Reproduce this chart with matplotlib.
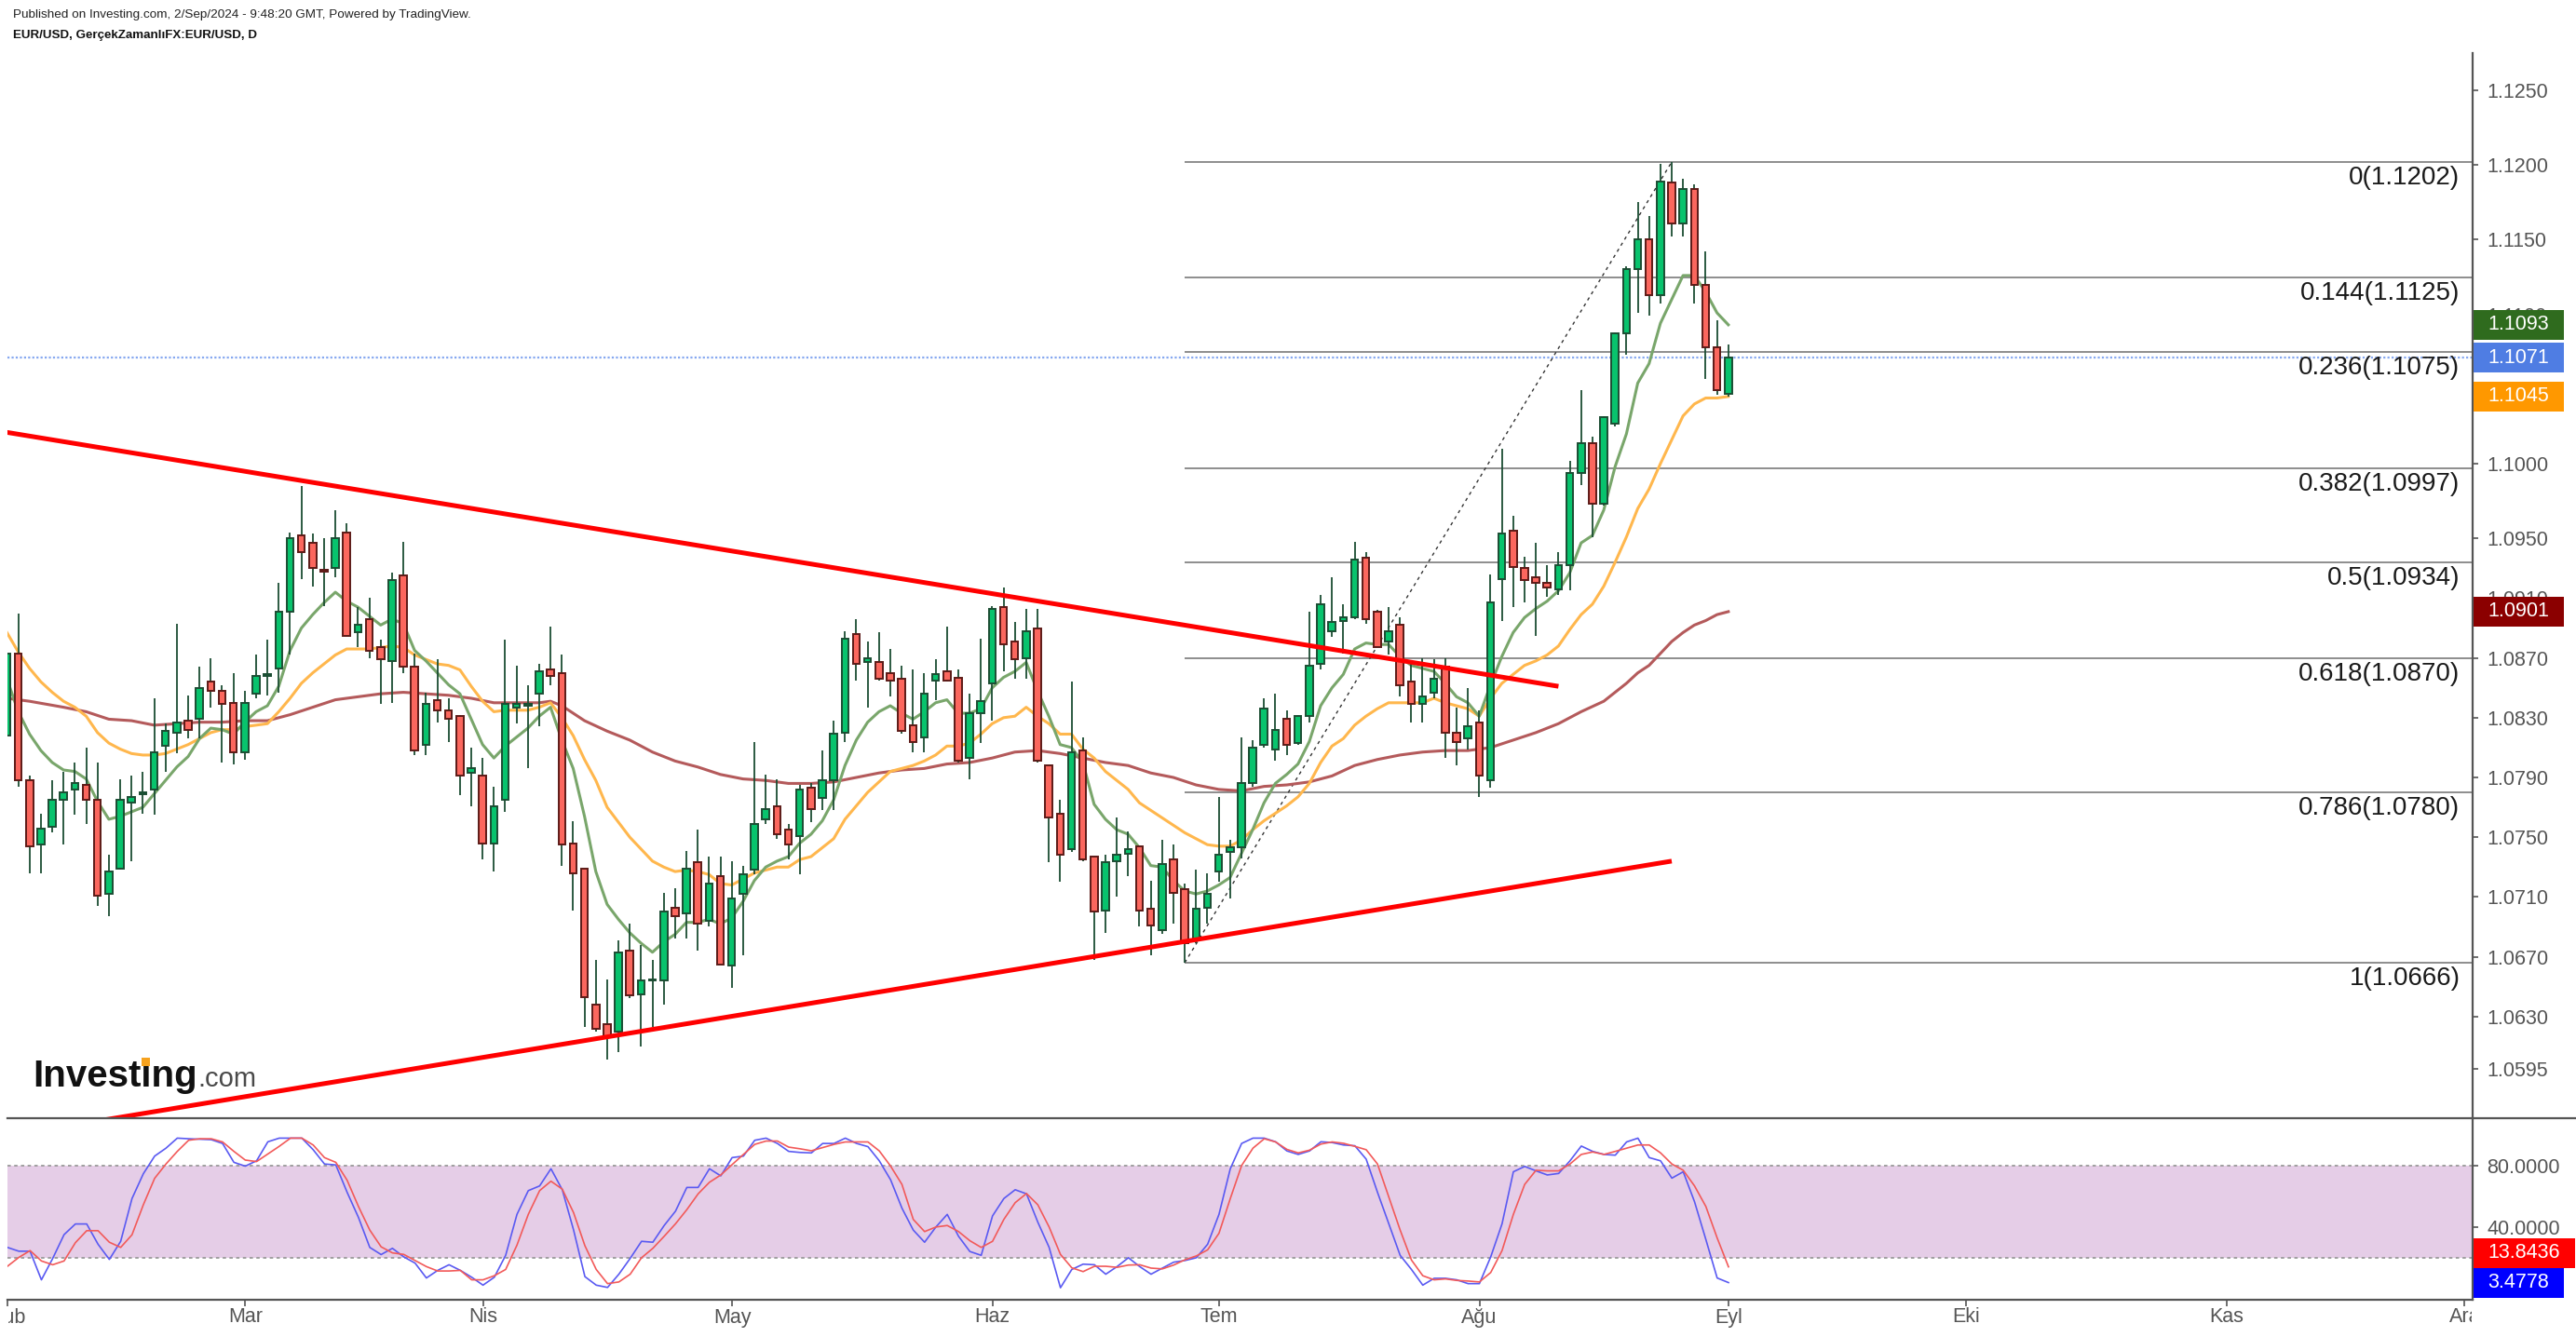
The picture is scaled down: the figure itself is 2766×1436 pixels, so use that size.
import matplotlib
matplotlib.use("Agg")
import matplotlib.pyplot as plt
import matplotlib.transforms as mtransforms
from matplotlib.patches import Rectangle
from matplotlib.lines import Line2D
import numpy as np

plt.rcParams['font.family'] = ['Liberation Sans', 'DejaVu Sans']

# ---- data (daily bars, index 0 = 1 Feb 2024) ----
month_ticks = [0, 21, 42, 64, 87, 107, 130, 152, 173, 196, 217]
month_labels = ['Şub', 'Mar', 'Nis', 'May', 'Haz', 'Tem', 'Ağu', 'Eyl', 'Eki', 'Kas', 'Ara']

opens = [1.0818, 1.0873, 1.0788, 1.0745, 1.0757, 1.0775, 1.0782, 1.0785, 1.0775, 1.0712,
         1.0729, 1.0773, 1.0779, 1.0782, 1.0811, 1.0820, 1.0828, 1.0829, 1.0854, 1.0848,
         1.0840, 1.0807, 1.0846, 1.0858, 1.0863, 1.0901, 1.0952, 1.0947, 1.0929, 1.0930,
         1.0954, 1.0887, 1.0896, 1.0877, 1.0868, 1.0925, 1.0864, 1.0812, 1.0842, 1.0835,
         1.0831, 1.0793, 1.0791, 1.0746, 1.0775, 1.0837, 1.0838, 1.0846, 1.0862, 1.0860,
         1.0746, 1.0729, 1.0638, 1.0625, 1.0620, 1.0674, 1.0645, 1.0654, 1.0654, 1.0703,
         1.0699, 1.0733, 1.0694, 1.0724, 1.0664, 1.0712, 1.0728, 1.0762, 1.0771, 1.0755,
         1.0751, 1.0783, 1.0776, 1.0788, 1.0820, 1.0886, 1.0867, 1.0867, 1.0860, 1.0856,
         1.0825, 1.0817, 1.0855, 1.0861, 1.0857, 1.0803, 1.0833, 1.0853, 1.0904, 1.0881,
         1.0870, 1.0890, 1.0798, 1.0766, 1.0742, 1.0808, 1.0737, 1.0701, 1.0734, 1.0739,
         1.0744, 1.0702, 1.0688, 1.0735, 1.0715, 1.0681, 1.0703, 1.0727, 1.0740, 1.0743,
         1.0786, 1.0812, 1.0809, 1.0829, 1.0813, 1.0831, 1.0866, 1.0888, 1.0895, 1.0897,
         1.0937, 1.0901, 1.0881, 1.0892, 1.0854, 1.0839, 1.0847, 1.0864, 1.0820, 1.0816,
         1.0827, 1.0788, 1.0923, 1.0955, 1.0930, 1.0924, 1.0920, 1.0916, 1.0932, 1.0994,
         1.1014, 1.0973, 1.1027, 1.1087, 1.1130, 1.1150, 1.1113, 1.1188, 1.1161, 1.1184,
         1.1120, 1.1078, 1.1047]
highs = [1.0889, 1.0900, 1.0791, 1.0766, 1.0788, 1.0794, 1.0800, 1.0810, 1.0800, 1.0738,
         1.0789, 1.0791, 1.0794, 1.0843, 1.0826, 1.0893, 1.0845, 1.0864, 1.0870, 1.0852,
         1.0860, 1.0848, 1.0872, 1.0882, 1.0920, 1.0954, 1.0985, 1.0953, 1.0950, 1.0969,
         1.0960, 1.0904, 1.0910, 1.0882, 1.0927, 1.0948, 1.0873, 1.0847, 1.0869, 1.0843,
         1.0832, 1.0810, 1.0803, 1.0784, 1.0882, 1.0865, 1.0852, 1.0866, 1.0891, 1.0872,
         1.0761, 1.0729, 1.0668, 1.0655, 1.0681, 1.0692, 1.0678, 1.0668, 1.0713, 1.0716,
         1.0741, 1.0755, 1.0737, 1.0737, 1.0734, 1.0731, 1.0814, 1.0792, 1.0789, 1.0759,
         1.0785, 1.0786, 1.0808, 1.0828, 1.0888, 1.0896, 1.0881, 1.0887, 1.0876, 1.0865,
         1.0862, 1.0860, 1.0869, 1.0891, 1.0862, 1.0846, 1.0883, 1.0905, 1.0917, 1.0894,
         1.0903, 1.0903, 1.0798, 1.0775, 1.0854, 1.0817, 1.0737, 1.0738, 1.0763, 1.0754,
         1.0744, 1.0721, 1.0748, 1.0745, 1.0719, 1.0728, 1.0726, 1.0777, 1.0748, 1.0817,
         1.0815, 1.0843, 1.0846, 1.0835, 1.0832, 1.0901, 1.0912, 1.0924, 1.0906, 1.0948,
         1.0941, 1.0902, 1.0904, 1.0897, 1.0868, 1.0870, 1.0869, 1.0870, 1.0837, 1.0850,
         1.0835, 1.0926, 1.1010, 1.0965, 1.0938, 1.0947, 1.0932, 1.0941, 1.1002, 1.1049,
         1.1018, 1.1032, 1.1088, 1.1132, 1.1175, 1.1166, 1.1201, 1.1202, 1.1191, 1.1187,
         1.1142, 1.1096, 1.1080]
lows = [1.0796, 1.0784, 1.0726, 1.0726, 1.0753, 1.0745, 1.0765, 1.0759, 1.0704, 1.0697,
        1.0728, 1.0734, 1.0766, 1.0765, 1.0794, 1.0806, 1.0816, 1.0816, 1.0837, 1.0800,
        1.0799, 1.0802, 1.0843, 1.0845, 1.0847, 1.0872, 1.0923, 1.0918, 1.0905, 1.0924,
        1.0885, 1.0877, 1.0870, 1.0839, 1.0840, 1.0860, 1.0805, 1.0805, 1.0827, 1.0814,
        1.0778, 1.0771, 1.0735, 1.0727, 1.0767, 1.0826, 1.0796, 1.0824, 1.0852, 1.0731,
        1.0701, 1.0623, 1.0620, 1.0601, 1.0606, 1.0642, 1.0610, 1.0623, 1.0638, 1.0682,
        1.0682, 1.0674, 1.0690, 1.0665, 1.0649, 1.0671, 1.0725, 1.0759, 1.0749, 1.0735,
        1.0725, 1.0760, 1.0768, 1.0768, 1.0814, 1.0855, 1.0837, 1.0855, 1.0844, 1.0819,
        1.0807, 1.0807, 1.0842, 1.0854, 1.0800, 1.0789, 1.0813, 1.0828, 1.0861, 1.0856,
        1.0856, 1.0800, 1.0733, 1.0720, 1.0740, 1.0734, 1.0668, 1.0686, 1.0710, 1.0724,
        1.0690, 1.0671, 1.0685, 1.0692, 1.0666, 1.0679, 1.0692, 1.0720, 1.0709, 1.0736,
        1.0784, 1.0810, 1.0801, 1.0805, 1.0812, 1.0827, 1.0862, 1.0884, 1.0873, 1.0896,
        1.0893, 1.0877, 1.0872, 1.0844, 1.0827, 1.0827, 1.0843, 1.0803, 1.0798, 1.0809,
        1.0777, 1.0783, 1.0895, 1.0904, 1.0907, 1.0885, 1.0911, 1.0912, 1.0915, 1.0986,
        1.0951, 1.0972, 1.1025, 1.1073, 1.1101, 1.1099, 1.1107, 1.1152, 1.1152, 1.1107,
        1.1057, 1.1046, 1.1045]
closes = [1.0873, 1.0788, 1.0744, 1.0756, 1.0775, 1.0780, 1.0786, 1.0775, 1.0711, 1.0727,
          1.0775, 1.0777, 1.0780, 1.0807, 1.0821, 1.0827, 1.0822, 1.0850, 1.0848, 1.0839,
          1.0807, 1.0840, 1.0858, 1.0859, 1.0901, 1.0950, 1.0941, 1.0930, 1.0928, 1.0950,
          1.0885, 1.0892, 1.0875, 1.0869, 1.0922, 1.0864, 1.0808, 1.0839, 1.0835, 1.0829,
          1.0791, 1.0796, 1.0746, 1.0771, 1.0839, 1.0839, 1.0839, 1.0861, 1.0858, 1.0745,
          1.0726, 1.0643, 1.0622, 1.0617, 1.0673, 1.0644, 1.0654, 1.0655, 1.0700, 1.0697,
          1.0729, 1.0692, 1.0719, 1.0665, 1.0709, 1.0725, 1.0759, 1.0769, 1.0752, 1.0745,
          1.0782, 1.0769, 1.0788, 1.0819, 1.0883, 1.0866, 1.0870, 1.0856, 1.0855, 1.0821,
          1.0814, 1.0846, 1.0859, 1.0855, 1.0801, 1.0833, 1.0841, 1.0903, 1.0879, 1.0869,
          1.0888, 1.0801, 1.0763, 1.0738, 1.0807, 1.0735, 1.0700, 1.0733, 1.0738, 1.0742,
          1.0701, 1.0691, 1.0732, 1.0713, 1.0679, 1.0702, 1.0712, 1.0738, 1.0743, 1.0786,
          1.0810, 1.0836, 1.0822, 1.0812, 1.0831, 1.0865, 1.0906, 1.0894, 1.0897, 1.0936,
          1.0896, 1.0877, 1.0888, 1.0852, 1.0839, 1.0844, 1.0856, 1.0820, 1.0814, 1.0824,
          1.0791, 1.0907, 1.0953, 1.0931, 1.0922, 1.0920, 1.0917, 1.0932, 1.0994, 1.1014,
          1.0973, 1.1031, 1.1087, 1.1130, 1.1150, 1.1113, 1.1189, 1.1161, 1.1184, 1.1120,
          1.1078, 1.1049, 1.1071]

# moving averages (green fast, orange medium, dark red slow)
ma_fast = [1.0856, 1.0834, 1.0819, 1.0808, 1.0800, 1.0795, 1.0794, 1.0789, 1.0774, 1.0762,
           1.0764, 1.0767, 1.0770, 1.0779, 1.0788, 1.0797, 1.0804, 1.0816, 1.0823, 1.0822,
           1.0819, 1.0827, 1.0834, 1.0838, 1.0851, 1.0875, 1.0890, 1.0899, 1.0907, 1.0914,
           1.0908, 1.0904, 1.0898, 1.0892, 1.0896, 1.0893, 1.0875, 1.0868, 1.0860, 1.0852,
           1.0846, 1.0829, 1.0812, 1.0803, 1.0811, 1.0817, 1.0823, 1.0831, 1.0837, 1.0815,
           1.0796, 1.0764, 1.0727, 1.0705, 1.0695, 1.0686, 1.0679, 1.0673, 1.0680, 1.0685,
           1.0693, 1.0693, 1.0695, 1.0692, 1.0696, 1.0707, 1.0721, 1.0730, 1.0734, 1.0737,
           1.0746, 1.0752, 1.0761, 1.0775, 1.0798, 1.0815, 1.0827, 1.0834, 1.0838, 1.0833,
           1.0829, 1.0834, 1.0840, 1.0842, 1.0833, 1.0833, 1.0836, 1.0850, 1.0857, 1.0861,
           1.0867, 1.0848, 1.0831, 1.0812, 1.0810, 1.0800, 1.0772, 1.0762, 1.0755, 1.0752,
           1.0743, 1.0731, 1.0730, 1.0721, 1.0714, 1.0712, 1.0714, 1.0718, 1.0723, 1.0739,
           1.0755, 1.0773, 1.0786, 1.0792, 1.0799, 1.0814, 1.0838, 1.0850, 1.0859, 1.0876,
           1.0880, 1.0879, 1.0879, 1.0871, 1.0865, 1.0863, 1.0861, 1.0853, 1.0844, 1.0840,
           1.0831, 1.0852, 1.0871, 1.0887, 1.0897, 1.0903, 1.0908, 1.0915, 1.0927, 1.0947,
           1.0952, 1.0969, 1.0998, 1.1020, 1.1054, 1.1067, 1.1094, 1.1110, 1.1126, 1.1126,
           1.1115, 1.1101, 1.1093]
ma_mid = [1.0887, 1.0874, 1.0863, 1.0854, 1.0847, 1.0841, 1.0837, 1.0831, 1.0820, 1.0813,
          1.0809, 1.0806, 1.0805, 1.0805, 1.0806, 1.0809, 1.0812, 1.0816, 1.0820, 1.0822,
          1.0822, 1.0824, 1.0825, 1.0826, 1.0834, 1.0843, 1.0853, 1.0860, 1.0866, 1.0872,
          1.0876, 1.0876, 1.0876, 1.0877, 1.0878, 1.0877, 1.0872, 1.0869, 1.0866, 1.0865,
          1.0862, 1.0851, 1.0841, 1.0834, 1.0835, 1.0835, 1.0835, 1.0837, 1.0840, 1.0830,
          1.0818, 1.0802, 1.0788, 1.0770, 1.0760, 1.0750, 1.0742, 1.0734, 1.0730, 1.0727,
          1.0728, 1.0727, 1.0725, 1.0719, 1.0718, 1.0722, 1.0726, 1.0728, 1.0730, 1.0730,
          1.0735, 1.0737, 1.0743, 1.0749, 1.0762, 1.0771, 1.0780, 1.0787, 1.0794, 1.0796,
          1.0798, 1.0801, 1.0805, 1.0811, 1.0811, 1.0813, 1.0819, 1.0826, 1.0830, 1.0831,
          1.0837, 1.0831, 1.0826, 1.0819, 1.0819, 1.0809, 1.0803, 1.0794, 1.0788, 1.0782,
          1.0773, 1.0768, 1.0763, 1.0758, 1.0753, 1.0749, 1.0745, 1.0744, 1.0744, 1.0748,
          1.0755, 1.0761, 1.0766, 1.0771, 1.0777, 1.0786, 1.0800, 1.0811, 1.0816, 1.0825,
          1.0831, 1.0836, 1.0840, 1.0840, 1.0840, 1.0840, 1.0843, 1.0840, 1.0838, 1.0836,
          1.0831, 1.0843, 1.0853, 1.0859, 1.0865, 1.0868, 1.0872, 1.0878, 1.0889, 1.0899,
          1.0906, 1.0918, 1.0934, 1.0951, 1.0970, 1.0983, 1.1000, 1.1016, 1.1032, 1.1040,
          1.1044, 1.1044, 1.1045]
ma_slow_idx = [0, 2, 5, 7, 9, 11, 13, 15, 17, 19, 21, 23, 25, 27, 29, 31, 33, 35, 37, 39,
               41, 43, 45, 47, 48, 49, 51, 53, 55, 57, 59, 61, 63, 65, 67, 69, 71, 73, 75, 77,
               79, 81, 83, 85, 87, 89, 91, 93, 95, 97, 99, 101, 103, 105, 107, 109, 111, 113,
               115, 117, 119, 121, 123, 125, 127, 129, 131, 133, 135, 137, 139, 141, 142, 143,
               144, 145, 146, 147, 148, 149, 150, 151, 152]
ma_slow = [1.0843, 1.0841, 1.0837, 1.0834, 1.0829, 1.0828, 1.0825, 1.0826, 1.0827, 1.0827,
           1.0828, 1.0828, 1.0832, 1.0837, 1.0842, 1.0844, 1.0846, 1.0847, 1.0846, 1.0845,
           1.0843, 1.0840, 1.0840, 1.0840, 1.0841, 1.0838, 1.0828, 1.0821, 1.0815, 1.0807,
           1.0801, 1.0797, 1.0792, 1.0789, 1.0788, 1.0786, 1.0786, 1.0787, 1.0790, 1.0793,
           1.0795, 1.0796, 1.0799, 1.0800, 1.0803, 1.0807, 1.0808, 1.0806, 1.0803, 1.0800,
           1.0798, 1.0793, 1.0790, 1.0785, 1.0782, 1.0781, 1.0784, 1.0785, 1.0787, 1.0791,
           1.0798, 1.0802, 1.0805, 1.0807, 1.0808, 1.0808, 1.0810, 1.0815, 1.0820, 1.0826,
           1.0834, 1.0841, 1.0847, 1.0853, 1.0860, 1.0865, 1.0873, 1.0881, 1.0887, 1.0892,
           1.0895, 1.0899, 1.0901]

# stochastic oscillator (%K blue, %D red)
stoch_k = [26.6, 24.1, 24.1, 5.3, 19.4, 35.0, 42.0, 42.0, 28.7, 18.7,
           30.6, 58.7, 75.0, 86.6, 91.8, 98.4, 98.0, 97.7, 97.4, 94.9,
           82.5, 80.0, 83.5, 96.0, 98.4, 98.4, 98.4, 90.8, 81.4, 80.8,
           62.8, 46.3, 26.6, 21.9, 26.0, 20.4, 16.3, 6.5, 11.5, 15.2,
           11.5, 7.0, 1.8, 7.0, 21.4, 48.3, 63.9, 67.0, 78.3, 64.5,
           38.0, 7.4, 1.8, 0.3, 9.0, 19.4, 30.6, 30.0, 41.0, 50.4,
           66.0, 66.0, 78.3, 73.6, 85.6, 86.6, 97.0, 98.4, 94.9, 89.7,
           89.0, 88.7, 94.9, 94.9, 98.4, 94.9, 92.8, 83.5, 71.0, 52.4,
           38.0, 30.0, 40.0, 48.3, 33.9, 23.9, 21.4, 47.3, 58.7, 64.5,
           61.8, 43.2, 26.6, 0.1, 12.1, 15.6, 15.2, 9.0, 14.0, 19.8,
           14.0, 9.0, 13.0, 16.9, 18.0, 19.8, 28.7, 48.3, 78.3, 94.9,
           98.4, 98.4, 96.0, 90.0, 87.7, 90.0, 96.0, 95.5, 93.9, 93.4,
           84.6, 62.8, 42.1, 21.4, 12.1, 1.8, 6.3, 6.3, 5.3, 2.8,
           2.8, 20.4, 42.1, 76.3, 79.8, 76.9, 74.2, 75.2, 83.5, 93.2,
           89.7, 87.7, 87.2, 95.9, 98.4, 85.6, 83.5, 72.1, 76.3, 56.6,
           31.8, 6.5, 3.4778]
stoch_d = [14.2, 20.0, 24.5, 17.7, 15.2, 17.7, 29.7, 37.6, 37.6, 30.0,
           26.6, 34.9, 54.6, 72.0, 81.4, 89.7, 97.0, 98.0, 98.0, 95.9,
           89.7, 84.0, 83.0, 88.0, 93.0, 98.4, 98.4, 93.9, 85.6, 82.5,
           70.7, 53.5, 38.0, 27.0, 23.0, 22.0, 18.0, 14.0, 11.1, 11.1,
           11.5, 5.3, 5.3, 8.0, 12.1, 28.1, 48.3, 63.9, 70.1, 64.9,
           49.4, 27.7, 12.1, 2.8, 3.9, 9.0, 19.8, 26.0, 33.9, 42.1,
           51.4, 61.8, 69.4, 74.2, 81.0, 87.7, 94.3, 96.5, 96.5, 92.5,
           91.4, 90.1, 92.2, 94.3, 95.9, 95.9, 95.9, 90.0, 80.0, 68.0,
           45.0, 37.0, 40.0, 41.0, 37.0, 31.0, 26.6, 30.6, 45.0, 56.0,
           62.0, 54.6, 40.0, 22.0, 13.2, 10.7, 14.2, 14.2, 13.5, 15.0,
           15.2, 13.0, 12.5, 15.0, 18.5, 21.0, 25.0, 35.9, 58.7, 80.4,
           91.8, 98.0, 95.9, 91.0, 88.7, 90.5, 94.5, 95.9, 95.0, 93.0,
           90.8, 81.4, 59.7, 38.0, 18.3, 8.0, 5.3, 5.9, 4.9, 4.5,
           3.9, 10.1, 24.5, 48.3, 68.0, 77.3, 76.9, 76.9, 81.4, 87.7,
           89.3, 87.7, 89.7, 91.8, 93.9, 93.9, 88.7, 81.4, 77.3, 67.0,
           53.5, 32.8, 13.8436]

fib_levels = ['0', '0.144', '0.236', '0.382', '0.5', '0.618', '0.786', '1']
fib_prices = [1.1202, 1.1125, 1.1075, 1.0997, 1.0934, 1.0870, 1.0780, 1.0666]
fib_from = 104              # swing low bar (26 Jun)
fib_to = 147                # swing high bar (26 Aug)

upper_trend_x = [0, 137]
upper_trend_y = [1.1021, 1.0851]
lower_trend_x = [0, 147]
lower_trend_y = [1.0550, 1.0734]

last_price = 1.1071
price_ticks = [1.0595, 1.0630, 1.0670, 1.0710, 1.0750, 1.0790, 1.0830, 1.0870, 1.0910,
               1.0950, 1.1000, 1.1100, 1.1150, 1.1200, 1.1250]
stoch_ticks = [40, 80]

# ---- styling ----
AXIS_GRAY = '#555555'
LABEL_GRAY = '#555555'
UP_FILL, UP_EDGE = '#08C36D', '#1B4D33'
DN_FILL, DN_EDGE = '#FB675E', '#5C1A17'
WICK = '#1B4D33'

W, H = 2766, 1436
fig = plt.figure(figsize=(W / 100, H / 100), dpi=100)
PANE_L, PANE_R = 8, 2655
MAIN_T, MAIN_B, OSC_B = 57, 1201, 1396


def add_pane(top, bottom):
    return fig.add_axes([PANE_L / W, 1 - bottom / H, (PANE_R - PANE_L) / W, (bottom - top) / H])


ax = add_pane(MAIN_T, MAIN_B)
ax2 = add_pane(MAIN_B, OSC_B)
for a in (ax, ax2):
    a.set_xlim(0.046, 217.72)
    for s in ('top', 'left', 'bottom'):
        a.spines[s].set_visible(False)
    a.spines['right'].set_color(AXIS_GRAY)
    a.spines['right'].set_linewidth(1.6)
    a.yaxis.tick_right()
    a.tick_params(axis='y', direction='out', length=4, width=1.2, color=AXIS_GRAY,
                  labelcolor=LABEL_GRAY, labelsize=15.5, pad=7)
    a.tick_params(axis='x', bottom=False, labelbottom=False)
    a.set_facecolor('none')

ax.set_ylim(1.05619, 1.12749)
ax.set_yticks(price_ticks)
ax.set_yticklabels([f'{t:.4f}' for t in price_ticks])

ax2.set_ylim(-7.8, 111.5)
ax2.set_yticks(stoch_ticks)
ax2.set_yticklabels([f'{t:.4f}' for t in stoch_ticks])
ax2.spines['bottom'].set_visible(True)
ax2.spines['bottom'].set_color(AXIS_GRAY)
ax2.spines['bottom'].set_linewidth(1.6)
ax2.set_xticks(month_ticks)
ax2.tick_params(axis='x', bottom=True, length=5, width=1.2, color=AXIS_GRAY, labelbottom=False)

# ---- price pane ----
idx = np.arange(len(closes))
o, h, l, c = map(np.array, (opens, highs, lows, closes))
up = c >= o

ax.hlines(fib_prices, fib_from, 217.72, color='#858585', lw=1.3, zorder=1)
for lev, p in zip(fib_levels, fib_prices):
    ax.annotate(f'{lev}({p:.4f})', xy=(216.6, p), xytext=(0, -3), textcoords='offset points',
                ha='right', va='top', fontsize=20, color='#1a1a1a', zorder=6)
ax.axhline(last_price, color='#86A8F0', lw=1.6, ls=(0, (1, 1)), zorder=1)
ax.plot([fib_from, fib_to], [fib_prices[-1], fib_prices[0]], color='#333333', lw=1.0,
        ls=(0, (2.5, 3)), zorder=2)

ax.plot(ma_slow_idx, ma_slow, color='#B45A5B', lw=2.2, zorder=2)
ax.plot(idx, ma_mid, color='#FFB74D', lw=2.2, zorder=2)
ax.plot(idx, ma_fast, color='#79A66B', lw=2.2, zorder=2)

ax.vlines(idx, l, h, color=WICK, lw=1.3, zorder=3)
ax.bar(idx[up], (c - o)[up], bottom=o[up], width=0.62, color=UP_FILL,
       edgecolor=UP_EDGE, linewidth=1.4, zorder=4)
ax.bar(idx[~up], (o - c)[~up], bottom=c[~up], width=0.62, color=DN_FILL,
       edgecolor=DN_EDGE, linewidth=1.4, zorder=4)

ax.plot(upper_trend_x, upper_trend_y, color='#FF0000', lw=3.6, zorder=5, solid_capstyle='butt')
ax.plot(lower_trend_x, lower_trend_y, color='#FF0000', lw=3.6, zorder=5, solid_capstyle='butt')

# ---- stochastic pane ----
ax2.axhspan(20, 80, color='#E5CDE7', lw=0, zorder=0)
for lvl in (20, 80):
    ax2.axhline(lvl, color='#9A9A9A', lw=1.3, ls=(0, (2, 2)), zorder=1)
ax2.plot(idx, stoch_k, color='#5A5AF2', lw=1.2, zorder=3)
ax2.plot(idx, stoch_d, color='#F25A5A', lw=1.2, zorder=3)

# month labels, cut at the pane edges like the original
clip_box = mtransforms.Bbox.from_extents(PANE_L + 1, 0, PANE_R - 1, H)
trans = mtransforms.blended_transform_factory(ax2.transData, fig.transFigure)
for m, lab in zip(month_ticks, month_labels):
    t = ax2.text(m, 1 - 1415 / H, lab, transform=trans, ha='center', va='center',
                 fontsize=15.5, color=LABEL_GRAY)
    t.set_clip_box(clip_box)
    t.set_clip_on(True)

# pane separator
fig.add_artist(Line2D([PANE_L / W, 1], [1 - MAIN_B / H] * 2, color=AXIS_GRAY, lw=1.6))

# ---- price-scale tags ----
renderer = fig.canvas.get_renderer()
TAG_H = 32


def price_tag(y_px, text, color):
    t = fig.text((PANE_R + 16) / W, y_px / H, text, ha='left', va='center', color='white',
                 fontsize=15.5, zorder=11)
    w = t.get_window_extent(renderer).width
    fig.add_artist(Rectangle(((PANE_R + 1) / W, (y_px - TAG_H / 2) / H), (w + 31) / W, TAG_H / H,
                             transform=fig.transFigure, facecolor=color, edgecolor='none', zorder=10))


def y_of(a, v):
    return a.transData.transform((0, v))[1]


price_tag(y_of(ax, ma_fast[-1]), f'{ma_fast[-1]:.4f}', '#2F6B1E')
price_tag(y_of(ax, last_price), f'{last_price:.4f}', '#4F7DE3')
price_tag(y_of(ax, ma_mid[-1]), f'{ma_mid[-1]:.4f}', '#FF9800')
price_tag(y_of(ax, ma_slow[-1]), f'{ma_slow[-1]:.4f}', '#8B0000')

k_y = y_of(ax2, stoch_k[-1])
d_y = max(y_of(ax2, stoch_d[-1]), k_y + TAG_H)
price_tag(d_y, f'{stoch_d[-1]:.4f}', '#FF0000')
price_tag(k_y, f'{stoch_k[-1]:.4f}', '#0000FF')

# ---- header and watermark ----
fig.text(14 / W, 1 - 16 / H, 'Published on Investing.com, 2/Sep/2024 - 9:48:20 GMT, Powered by TradingView.',
         fontsize=9.7, color='#222222', va='center', ha='left')
fig.text(14 / W, 1 - 38 / H, 'EUR/USD, GerçekZamanlıFX:EUR/USD, D',
         fontsize=9.6, color='#111111', va='center', ha='left', weight='bold')

LOGO_X, LOGO_BASE = 35, 1167
logo = fig.text(LOGO_X / W, 1 - LOGO_BASE / H, 'Investing', fontsize=29, weight='bold',
                color='#111111', va='baseline', ha='left', zorder=8)
lw_px = logo.get_window_extent(renderer).x1
fig.text((lw_px + 1) / W, 1 - LOGO_BASE / H, '.com', fontsize=21, color='#4a4a4a',
         va='baseline', ha='left', zorder=8)

# orange dot on the second "i" of the logo
probe = fig.text(0, 0, 'Invest', fontsize=29, weight='bold')
pre_w = probe.get_window_extent(renderer).width
probe.set_text('i')
i_w = probe.get_window_extent(renderer).width
probe.remove()
em = 29 * 100 / 72
dot_cx = LOGO_X + pre_w + i_w / 2
dot_cy = H - LOGO_BASE + 0.665 * em
fig.add_artist(Rectangle(((dot_cx - 4.5) / W, (dot_cy - 4.5) / H), 9 / W, 9 / H,
                         transform=fig.transFigure, facecolor='#F6A21E', edgecolor='none', zorder=9))

fig.savefig('out.png', dpi=100)
